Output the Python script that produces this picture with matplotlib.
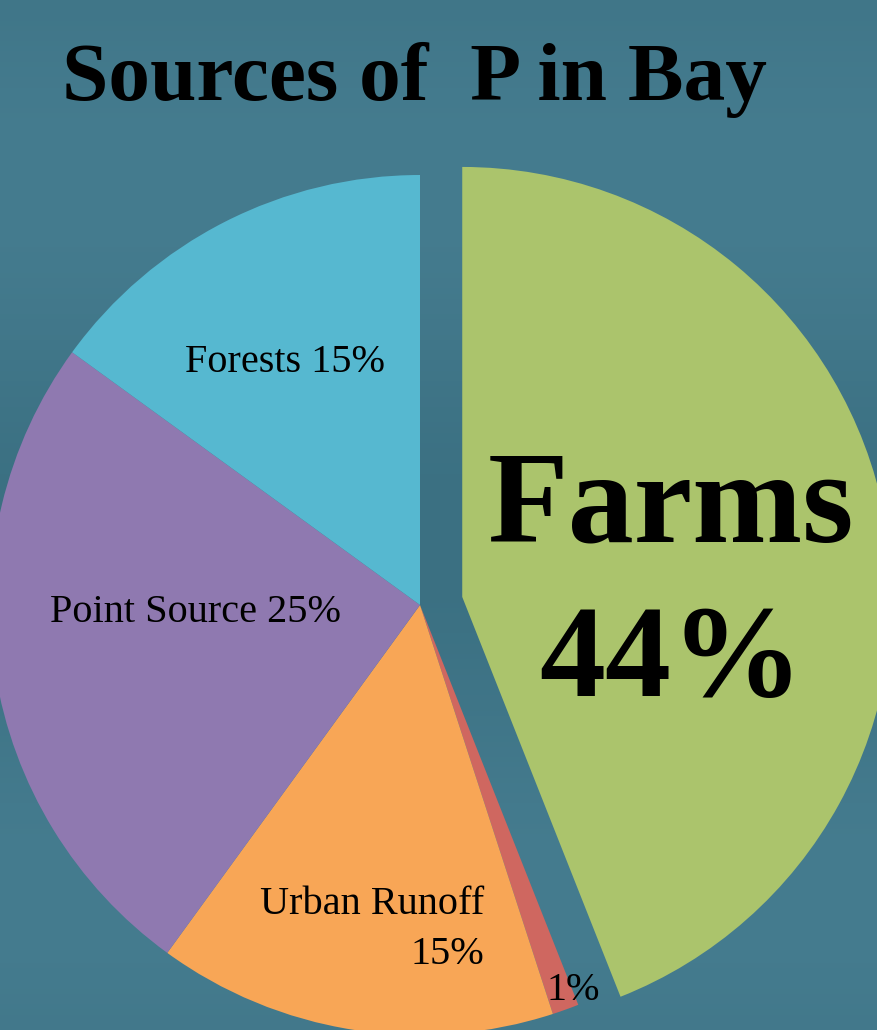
import matplotlib.pyplot as plt
import numpy as np

sources = ['Farms', 'Other', 'Urban Runoff', 'Point Source', 'Forests']
shares = [44, 1, 15, 25, 15]
colors = ['#abc46c', '#cf6760', '#f8a656', '#8f79b0', '#56b8d0']
explode = [0.1, 0, 0, 0, 0]

W, H = 877, 1030
fig = plt.figure(figsize=(W / 100, H / 100), dpi=100)
ax = fig.add_axes([0, 0, 1, 1])

# water-ish background: soft vertical banding
yy = np.linspace(0, 1, 200)[:, None] * np.ones((1, 10))
band = 0.5 + 0.5 * np.sin(yy * 9.0)
bg = np.zeros((200, 10, 3))
c1 = np.array([0x3b, 0x70, 0x82]) / 255
c2 = np.array([0x45, 0x7c, 0x8f]) / 255
for i in range(3):
    bg[:, :, i] = c1[i] + (c2[i] - c1[i]) * band[:, :]
ax.imshow(bg, extent=[0, W, 0, H], aspect='auto', zorder=0)

cx, cy, r = 420, H - 605, 430
# pie's explode is an absolute offset, so scale by the radius
wedges, _ = ax.pie(shares, colors=colors, explode=[e * r for e in explode],
                   startangle=90, counterclock=False, radius=r,
                   center=(cx, cy), frame=True, wedgeprops=dict(linewidth=0))
for w in wedges:
    w.set_zorder(2)
ax.set_xlim(0, W)
ax.set_ylim(0, H)
ax.set_aspect('equal')
ax.axis('off')

serif = ['Liberation Serif', 'DejaVu Serif']
ax.text(414, H - 80, 'Sources of  P in Bay', fontsize=60, fontweight='bold',
        family=serif, ha='center', va='center', zorder=5)
ax.text(671, H - 510, 'Farms', fontsize=95, fontweight='bold',
        family=serif, ha='center', va='center', zorder=5)
ax.text(671, H - 665, '44%', fontsize=95, fontweight='bold',
        family=serif, ha='center', va='center', zorder=5)
ax.text(285, H - 362, 'Forests 15%', fontsize=29, family=serif,
        ha='center', va='center', zorder=5)
ax.text(195, H - 613, 'Point Source 25%', fontsize=29, family=serif,
        ha='center', va='center', zorder=5)
ax.text(484, H - 905, 'Urban Runoff', fontsize=29, family=serif,
        ha='right', va='center', zorder=5)
ax.text(484, H - 955, '15%', fontsize=29, family=serif,
        ha='right', va='center', zorder=5)
ax.text(573, H - 990, '1%', fontsize=29, family=serif,
        ha='center', va='center', zorder=5)

fig.savefig('out.png', dpi=100)
